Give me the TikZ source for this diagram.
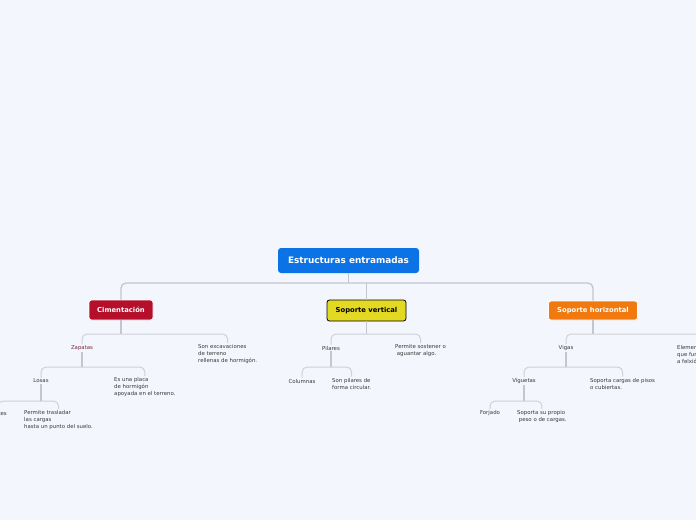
\documentclass[tikz,border=0pt]{standalone}
\usepackage{fontspec}
\setmainfont{DejaVu Sans}
\definecolor{bgpage}{HTML}{F4F6FD}
\definecolor{rootblue}{HTML}{0B73E5}
\definecolor{cimred}{HTML}{B50F2B}
\definecolor{veryellow}{HTML}{E4D922}
\definecolor{hororange}{HTML}{F07A10}
\definecolor{linegray}{HTML}{C2C6CE}
\definecolor{leafgray}{HTML}{3A3A3A}
\definecolor{zapred}{HTML}{7B2A3C}
\begin{document}
\begin{tikzpicture}[x=1pt,y=-1pt,
  rootbox/.style={fill=rootblue,text=white,rounded corners=3pt,minimum width=141pt,minimum height=25pt,font=\fontsize{8.9}{10}\selectfont\bfseries},
  catbox/.style={rounded corners=2.5pt,minimum height=20pt,line width=0.8pt,font=\fontsize{6.8}{8}\selectfont\bfseries},
  leaf/.style={inner sep=1pt,align=left,text=leafgray,font=\fontsize{5.4}{7}\selectfont},
  trunk/.style={draw=linegray,line width=1.3pt,rounded corners=5pt},
  branch/.style={draw=linegray!80,line width=1pt,rounded corners=5pt}]
  \useasboundingbox (0,0) rectangle (696,520);
  \clip (0,0) rectangle (696,520);
  \fill[bgpage] (0,0) rectangle (696,520);
  % main topic and the three supports
  \node[rootbox] (root) at (348.5,260.5) {Estructuras entramadas};
  \node[catbox,fill=cimred,draw=white,text=white,minimum width=64pt] (cim) at (121,310) {Cimentación};
  \node[catbox,fill=veryellow,draw=black,text=black,minimum width=79pt,minimum height=21pt] (ver) at (366.5,310.5) {Soporte vertical};
  \node[catbox,fill=hororange,draw=white,text=white,minimum width=89pt,minimum height=19pt] (hor) at (593,310.5) {Soporte horizontal};
  % Cimentacion
  \node[leaf,text=zapred] (zap) at (82,348) {Zapatas};
  \node[leaf,anchor=west] (exc) at (197,354) {Son excavaciones\\de terreno\\rellenas de hormigón.};
  \node[leaf] (los) at (41,381) {Losas};
  \node[leaf,anchor=west] (pla) at (113,387) {Es una placa\\de hormigón\\apoyada en el terreno.};
  \node[leaf,anchor=east] (pil) at (8,413) {Pilotes};
  \node[leaf,anchor=west] (tra) at (23,420) {Permite trasladar\\las cargas\\hasta un punto del suelo.};
  % Soporte vertical
  \node[leaf] (pila) at (331,348) {Pilares};
  \node[leaf,anchor=west] (sos) at (394,350.5) {Permite sostener o\\~aguantar algo.};
  \node[leaf] (col) at (302,381) {Columnas};
  \node[leaf,anchor=west] (cir) at (331,383.5) {Son pilares de\\forma circular.};
  % Soporte horizontal
  \node[leaf] (vig) at (566,348) {Vigas};
  \node[leaf,anchor=west] (ele) at (676,354) {Elementos horizontales\\que funcionan\\a felxión.};
  \node[leaf] (vgt) at (524,381) {Viguetas};
  \node[leaf,anchor=west] (pis) at (589,383.5) {Soporta cargas de pisos\\o cubiertas.};
  \node[leaf] (forj) at (490,413) {Forjado};
  \node[leaf,anchor=west] (pro) at (516,416.5) {Soporta su propio\\~peso o de cargas.};
  % junctions
  \coordinate (rootbar) at (348.5,283);
  \coordinate (cimbar) at (121,334);
  \coordinate (zapbar) at (82,367);
  \coordinate (losbar) at (41,401);
  \coordinate (verbar) at (366.5,334);
  \coordinate (pilbar) at (331,367);
  \coordinate (horbar) at (593,334);
  \coordinate (vigbar) at (566,367);
  \coordinate (vgtbar) at (524,401);
  % connectors
  \draw[trunk] (root.south) -- (rootbar);
  \draw[trunk] (cim.north) |- (rootbar) -| (hor.north);
  \draw[trunk] (ver.north) -- (ver.north |- rootbar);
  \draw[trunk] (cim.south) -- (cimbar);
  \draw[branch] (zap.north) |- (cimbar) -| (exc.north);
  \draw[trunk] (zap.south) -- (zapbar);
  \draw[branch] (los.north) |- (zapbar) -| (pla.north);
  \draw[trunk] (los.south) -- (losbar);
  \draw[branch] (pil.north) |- (losbar) -| (tra.north);
  \draw[trunk] (ver.south) -- (verbar);
  \draw[branch] (pila.north) |- (verbar) -| (sos.north);
  \draw[trunk] (pila.south) -- (pilbar);
  \draw[branch] (col.north) |- (pilbar) -| (cir.north);
  \draw[trunk] (hor.south) -- (horbar);
  \draw[branch] (vig.north) |- (horbar) -| (ele.north);
  \draw[trunk] (vig.south) -- (vigbar);
  \draw[branch] (vgt.north) |- (vigbar) -| (pis.north);
  \draw[trunk] (vgt.south) -- (vgtbar);
  \draw[branch] (forj.north) |- (vgtbar) -| (pro.north);
\end{tikzpicture}
\end{document}
